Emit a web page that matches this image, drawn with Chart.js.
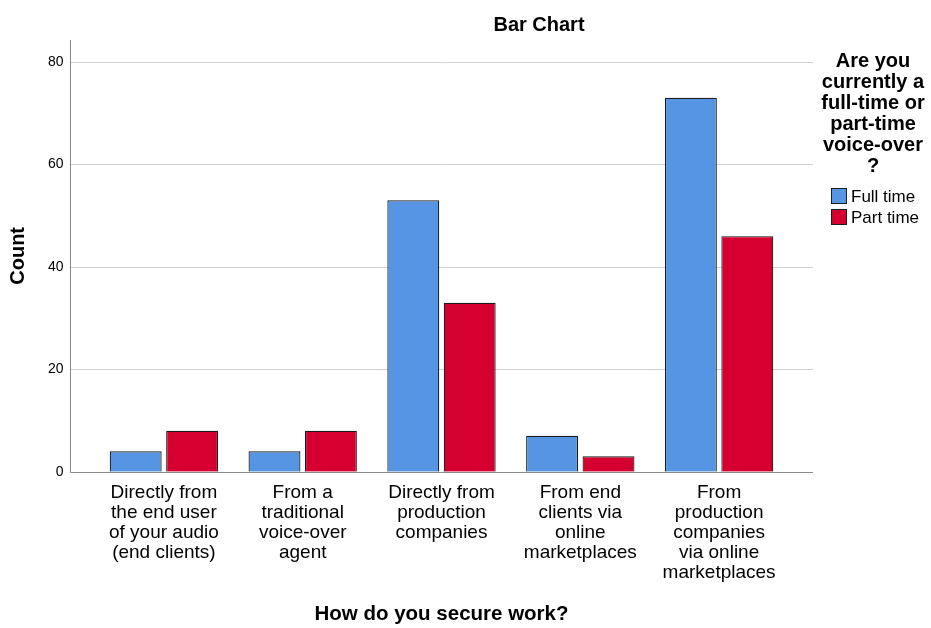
<!DOCTYPE html>
<html>
<head>
<meta charset="utf-8">
<script src="https://cdn.jsdelivr.net/npm/chart.js@4/dist/chart.umd.min.js"></script>
<style>
  html, body { margin: 0; padding: 0; background: #fff; }
  #wrap { width: 931px; height: 628px; position: relative; }
</style>
</head>
<body>
<div id="wrap"><canvas id="chart"></canvas></div>
<script>
// data
const categories = [
  ["Directly from", "the end user", "of your audio", "(end clients)"],
  ["From a", "traditional", "voice-over", "agent"],
  ["Directly from", "production", "companies"],
  ["From end", "clients via", "online", "marketplaces"],
  ["From", "production", "companies", "via online", "marketplaces"]
];
const fullTime = [4, 4, 53, 7, 73];
const partTime = [8, 8, 33, 3, 46];
const yTicks = [0, 20, 40, 60, 80];
const seriesNames = ["Full time", "Part time"];
const legendTitle = ["Are you", "currently a", "full-time or", "part-time", "voice-over", "?"];

const COLORS = ["#5595e3", "#d5002f"];
const FONT = "'Liberation Sans', Arial, sans-serif";
const OVERHANG = 24.5; // axis/grid run past the outer categories, like SPSS

// SPSS-ish frame: grid lines, axis lines, title and legend
const spssFrame = {
  id: "spssFrame",
  beforeDatasetsDraw(chart) {
    const { ctx, chartArea: a, scales } = chart;
    const x0 = a.left - OVERHANG, x1 = a.right + OVERHANG;
    ctx.save();
    ctx.lineWidth = 1;
    ctx.strokeStyle = "#d2d2d2";
    yTicks.forEach(v => {
      if (v === 0) return;
      const py = Math.round(scales.y.getPixelForValue(v)) + 0.5;
      ctx.beginPath(); ctx.moveTo(x0, py); ctx.lineTo(x1, py); ctx.stroke();
    });
    ctx.strokeStyle = "#8a8a8a";
    const by = Math.round(a.bottom) + 0.5;
    ctx.beginPath();
    ctx.moveTo(Math.round(x0) + 0.5, a.top);
    ctx.lineTo(Math.round(x0) + 0.5, by);
    ctx.lineTo(x1, by);
    ctx.stroke();
    ctx.restore();
  },
  afterDraw(chart) {
    const { ctx } = chart;
    ctx.save();
    ctx.fillStyle = "#000";
    ctx.textBaseline = "middle";
    ctx.textAlign = "center";
    ctx.font = "bold 20px " + FONT;
    ctx.fillText("Bar Chart", 539, 25);

    legendTitle.forEach((t, i) => ctx.fillText(t, 873, 61 + i * 21));

    ctx.textAlign = "left";
    ctx.font = "17px " + FONT;
    seriesNames.forEach((name, i) => {
      const cy = 196 + i * 21;
      ctx.fillStyle = COLORS[i];
      ctx.fillRect(831, cy - 8, 16, 16);
      ctx.strokeStyle = "#1e1e1e";
      ctx.lineWidth = 1;
      ctx.strokeRect(831.5, cy - 7.5, 15, 15);
      ctx.fillStyle = "#000";
      ctx.fillText(name, 851, cy + 1);
    });
    ctx.restore();
  }
};

new Chart(document.getElementById("chart"), {
  type: "bar",
  data: {
    labels: categories,
    datasets: seriesNames.map((name, i) => ({
      label: name,
      data: i === 0 ? fullTime : partTime,
      backgroundColor: COLORS[i],
      borderColor: "#1a1a1a",
      borderWidth: 1.2,
      categoryPercentage: 0.813,
      barPercentage: 0.92
    }))
  },
  options: {
    responsive: true,
    maintainAspectRatio: false,
    animation: false,
    layout: { padding: { left: 2, right: 142.5, top: 40, bottom: 0 } },
    plugins: { legend: { display: false }, tooltip: { enabled: false } },
    scales: {
      x: {
        grid: { display: false, drawTicks: false },
        border: { display: false },
        ticks: {
          color: "#000",
          padding: 11,
          maxRotation: 0,
          autoSkip: false,
          font: { family: FONT, size: 19, lineHeight: "20px" }
        },
        title: {
          display: true,
          text: "How do you secure work?",
          color: "#000",
          padding: { top: 0, bottom: 1 },
          font: { family: FONT, size: 20.5, weight: "bold" }
        },
        afterFit: s => { s.height = 156.3; }
      },
      y: {
        min: 0,
        max: 84.3,
        grid: { display: false, drawTicks: false },
        border: { display: false },
        afterBuildTicks: s => { s.ticks = yTicks.map(v => ({ value: v })); },
        ticks: {
          color: "#000",
          padding: 31,
          font: { family: FONT, size: 14 }
        },
        title: {
          display: true,
          text: "Count",
          color: "#000",
          padding: { top: 4, bottom: 0 },
          font: { family: FONT, size: 20, weight: "bold" }
        },
        afterFit: s => { s.width = 92.5; }
      }
    }
  },
  plugins: [spssFrame]
});
</script>
</body>
</html>
